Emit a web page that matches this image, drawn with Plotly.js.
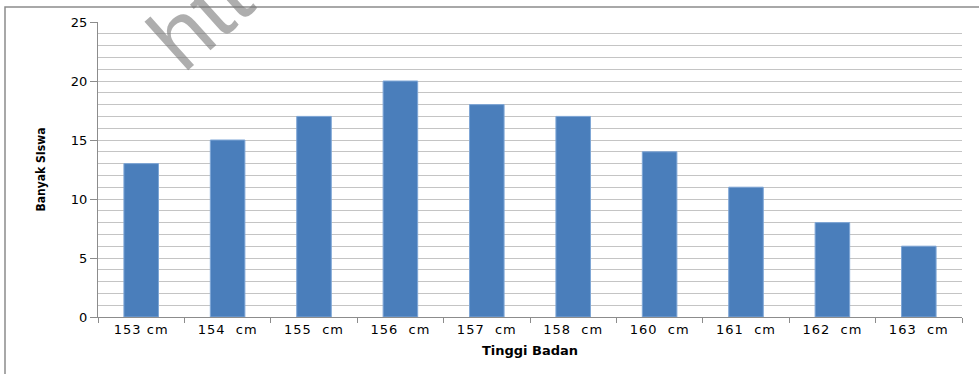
<!DOCTYPE html>
<html>
<head>
<meta charset="utf-8">
<script src="https://cdn.plot.ly/plotly-3.0.1.min.js"></script>
<style>
html,body{margin:0;padding:0;background:#fff;}
#chart{width:979px;height:374px;}
.xtick text{letter-spacing:1px;}
</style>
</head>
<body>
<div id="chart"></div>
<script>
var categories = ["153 cm", "154\u00a0 cm", "155\u00a0 cm", "156\u00a0 cm", "157\u00a0 cm", "158\u00a0 cm", "160\u00a0 cm", "161\u00a0 cm", "162\u00a0 cm", "163\u00a0 cm"];
var values = [13, 15, 17, 20, 18, 17, 14, 11, 8, 6];
var yTicks = [0, 5, 10, 15, 20, 25];

var L = 98, R = 17, T = 22, B = 57, W = 979, H = 374;
var pw = W - L - R, ph = H - T - B;
function px(x){ return (x - L) / pw; }
function py(y){ return (H - B - y) / ph; }

var data = [{
  type: 'bar',
  x: categories,
  y: values,
  marker: {color: '#4a7ebb', line: {color: '#7ea6d6', width: 1}},
  hoverinfo: 'x+y'
}];

var layout = {
  width: W, height: H,
  margin: {l: L, r: R, t: T, b: B, pad: 0},
  paper_bgcolor: '#ffffff',
  plot_bgcolor: '#ffffff',
  showlegend: false,
  bargap: 0.6,
  font: {family: 'DejaVu Sans, Verdana, sans-serif', size: 13, color: '#000'},
  xaxis: {
    type: 'category',
    showline: true, linecolor: '#8c8c8c', linewidth: 1,
    ticks: 'outside', tickson: 'boundaries', ticklen: 5, tickcolor: '#8c8c8c',
    showgrid: false,
    tickfont: {family: 'DejaVu Sans, Verdana, sans-serif', size: 13},
    title: {text: 'Tinggi Badan', font: {family: 'DejaVu Sans, sans-serif', size: 13, weight: 'bold'}, standoff: 10}
  },
  yaxis: {
    range: [0, 25],
    tickvals: yTicks,
    ticktext: yTicks.map(String),
    showline: true, linecolor: '#8c8c8c', linewidth: 1,
    ticks: 'outside', ticklen: 7, tickcolor: '#8c8c8c',
    showgrid: true, gridcolor: '#c4c4c4', gridwidth: 1,
    minor: {dtick: 1, showgrid: true, gridcolor: '#c4c4c4', gridwidth: 1, ticks: ''},
    zeroline: false,
    tickfont: {family: 'DejaVu Sans, Verdana, sans-serif', size: 13},
    title: {text: 'Banyak SIswa', font: {family: 'DejaVu Sans Condensed, Liberation Sans Narrow, sans-serif', size: 12, weight: 'bold'}, standoff: 22}
  },
  shapes: [{
    type: 'rect', xref: 'paper', yref: 'paper',
    x0: px(5), x1: px(990), y0: py(390), y1: py(7),
    line: {color: '#8c8c8c', width: 1.5}, fillcolor: 'rgba(0,0,0,0)', layer: 'below'
  }],
  annotations: [{
    xref: 'paper', yref: 'paper', x: px(200), y: py(18),
    xanchor: 'center', yanchor: 'middle',
    text: 'htt', showarrow: false, textangle: -42,
    font: {family: 'Liberation Sans, Arial, sans-serif', size: 90, color: 'rgba(120,120,120,0.6)'}
  }]
};

Plotly.newPlot('chart', data, layout, {displayModeBar: false, staticPlot: true});
</script>
</body>
</html>
